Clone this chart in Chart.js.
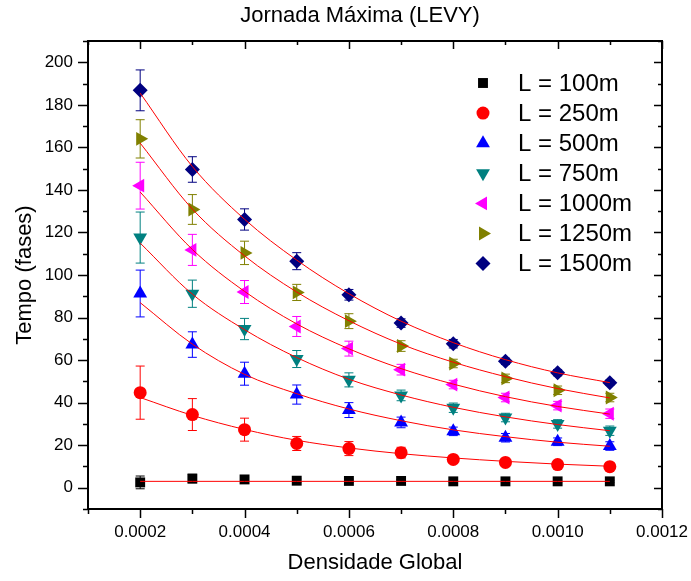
<!DOCTYPE html>
<html>
<head>
<meta charset="utf-8">
<title>Jornada Máxima (LEVY)</title>
<script src="https://cdn.jsdelivr.net/npm/chart.js@4/dist/chart.umd.min.js"></script>
<style>
  body { margin: 0; background: #fff; }
  canvas { display: block; }
</style>
</head>
<body>
<canvas id="js--chart" width="691" height="581"></canvas>
<script>
// densidade global (eixo x)
const densities = [0.0002, 0.0003, 0.0004, 0.0005, 0.0006, 0.0007, 0.0008, 0.0009, 0.0010, 0.0011];

const labels = ["L = 100m", "L = 250m", "L = 500m", "L = 750m", "L = 1000m", "L = 1250m", "L = 1500m"];
const colors = ["#000000", "#ff0000", "#0000ff", "#008080", "#ff00ff", "#808000", "#000080"];

// tempo medio (fases)
const t100 = [2.5, 4.3, 3.9, 3.3, 3.2, 3.2, 3.0, 3.0, 3.0, 3.0];
const t250 = [44.7, 34.4, 27.3, 20.8, 18.4, 16.5, 13.3, 11.9, 10.9, 9.9];
const t500 = [91.3, 67.3, 53.6, 43.8, 36.5, 30.7, 26.5, 23.5, 21.6, 19.6];
const t750 = [117.6, 91.2, 74.6, 60.5, 50.7, 43.4, 37.6, 33.0, 30.0, 26.8];
const t1000 = [142.0, 111.8, 92.0, 75.8, 65.4, 55.5, 48.5, 42.4, 38.6, 34.8];
const t1250 = [164.0, 130.8, 110.4, 91.8, 78.3, 66.6, 58.4, 51.4, 45.8, 42.4];
const t1500 = [186.8, 149.6, 126.1, 106.5, 90.7, 77.4, 67.7, 59.4, 54.1, 49.4];

// barras de erro
const e100 = [3, 2, 1, 0.8, 0.8, 0.6, 0.5, 0.5, 0.5, 0.5];
const e250 = [12.5, 7.5, 5.4, 3.3, 3.3, 2.5, 1.8, 1.5, 1.3, 1.2];
const e500 = [11, 6, 5.4, 4.5, 3.5, 2.5, 2, 2, 1.8, 2];
const e750 = [12, 6.4, 5, 4, 3.3, 2.5, 2.2, 2, 2, 2.2];
const e1000 = [11, 7.3, 5.4, 4.7, 3.5, 2.5, 2, 2, 2, 2.2];
const e1250 = [9, 7, 5.5, 3.8, 3.5, 2.5, 2, 2, 2, 2];
const e1500 = [9.6, 6, 5, 4, 2.5, 2, 2, 1.5, 1.5, 1.2];

// curvas de ajuste
const f100 = [3, 3, 3, 3, 3, 3, 3, 3, 3, 3];
const f250 = [42.4, 34.0, 27.4, 22.3, 18.7, 16.0, 14.0, 12.4, 11.1, 10.1];
const f500 = [87.0, 67.5, 53.3, 44.2, 37.0, 31.5, 27.2, 24.0, 21.4, 19.5];
const f750 = [115.0, 91.0, 74.3, 61.2, 51.0, 43.6, 37.8, 33.3, 29.7, 26.8];
const f1000 = [139.0, 112.0, 92.3, 77.0, 65.3, 56.0, 48.7, 42.8, 38.2, 34.6];
const f1250 = [162.0, 131.0, 109.0, 92.0, 78.5, 67.5, 59.0, 52.2, 46.6, 42.2];
const f1500 = [185.5, 151.0, 126.2, 107.0, 91.2, 78.3, 68.2, 60.2, 54.0, 49.4];

const xMajor = [0.0002, 0.0004, 0.0006, 0.0008, 0.0010, 0.0012];
const xMinor = [0.0001, 0.0003, 0.0005, 0.0007, 0.0009, 0.0011];
const yMajor = [0, 20, 40, 60, 80, 100, 120, 140, 160, 180, 200];
const yMinor = [-10, 10, 30, 50, 70, 90, 110, 130, 150, 170, 190, 210];

const series = [t100, t250, t500, t750, t1000, t1250, t1500];
const errors = [e100, e250, e500, e750, e1000, e1250, e1500];
const fits = [f100, f250, f500, f750, f1000, f1250, f1500];
const styles = ["rect", "circle", "triangle", "triangle", "triangle", "triangle", "rectRot"];
const rotations = [0, 0, 0, 180, 270, 90, 0];
const radii = [7, 6.5, 8, 8, 8, 8, 7.5];

const toPoints = function(values) {
    return densities.map(function(d, i) { return { x: d, y: values[i] }; });
};

const datasets = [];
for (let i = 0; i < series.length; i++) {
    datasets.push({
        type: "line",
        label: "fit " + labels[i],
        data: toPoints(fits[i]),
        borderColor: "#ff0000",
        borderWidth: 1,
        pointRadius: 0,
        cubicInterpolationMode: "monotone",
        fill: false,
        order: 0
    });
}
for (let i = 0; i < series.length; i++) {
    datasets.push({
        type: "scatter",
        label: labels[i],
        data: toPoints(series[i]),
        errors: errors[i],
        backgroundColor: colors[i],
        borderColor: colors[i],
        borderWidth: 0,
        pointStyle: styles[i],
        rotation: rotations[i],
        pointRadius: radii[i],
        order: 1
    });
}

const errorBars = {
    id: "errorBars",
    beforeDatasetsDraw(chart) {
        const ctx = chart.ctx;
        const x = chart.scales.x;
        const y = chart.scales.y;
        ctx.save();
        ctx.lineWidth = 1;
        chart.data.datasets.forEach(function(ds) {
            if (!ds.errors) return;
            ctx.strokeStyle = ds.borderColor;
            ds.data.forEach(function(p, i) {
                const px = x.getPixelForValue(p.x);
                const top = y.getPixelForValue(p.y + ds.errors[i]);
                const bottom = y.getPixelForValue(p.y - ds.errors[i]);
                ctx.beginPath();
                ctx.moveTo(px, top);
                ctx.lineTo(px, bottom);
                ctx.moveTo(px - 4.5, top);
                ctx.lineTo(px + 4.5, top);
                ctx.moveTo(px - 4.5, bottom);
                ctx.lineTo(px + 4.5, bottom);
                ctx.stroke();
            });
        });
        ctx.restore();
    }
};

const frame = {
    id: "frame",
    afterDraw(chart) {
        const ctx = chart.ctx;
        const area = chart.chartArea;
        const x = chart.scales.x;
        const y = chart.scales.y;
        ctx.save();
        ctx.strokeStyle = "#000";
        ctx.lineWidth = 1.5;
        ctx.beginPath();
        xMajor.forEach(function(v) {
            const px = Math.round(x.getPixelForValue(v)) + 0.5;
            ctx.moveTo(px, area.bottom); ctx.lineTo(px, area.bottom + 9);
            ctx.moveTo(px, area.top); ctx.lineTo(px, area.top + 8);
        });
        xMinor.forEach(function(v) {
            const px = Math.round(x.getPixelForValue(v)) + 0.5;
            ctx.moveTo(px, area.bottom); ctx.lineTo(px, area.bottom + 5);
            ctx.moveTo(px, area.top); ctx.lineTo(px, area.top + 4);
        });
        yMajor.forEach(function(v) {
            const py = Math.round(y.getPixelForValue(v)) + 0.5;
            ctx.moveTo(area.left, py); ctx.lineTo(area.left - 10, py);
            ctx.moveTo(area.right, py); ctx.lineTo(area.right - 8, py);
        });
        yMinor.forEach(function(v) {
            const py = Math.round(y.getPixelForValue(v)) + 0.5;
            ctx.moveTo(area.left, py); ctx.lineTo(area.left - 5, py);
            ctx.moveTo(area.right, py); ctx.lineTo(area.right - 4, py);
        });
        ctx.stroke();
        ctx.lineWidth = 2;
        ctx.strokeRect(area.left, area.top, area.right - area.left, area.bottom - area.top);

        // titulo
        ctx.fillStyle = "#000";
        ctx.font = "22px 'Liberation Sans', Arial, sans-serif";
        ctx.textAlign = "center";
        ctx.textBaseline = "middle";
        ctx.fillText("Jornada Máxima (LEVY)", 360, 16);

        // legenda
        ctx.font = "24px 'Liberation Sans', Arial, sans-serif";
        ctx.textAlign = "left";
        const scatter = chart.data.datasets.filter(function(ds) { return ds.type === "scatter"; });
        scatter.forEach(function(ds, i) {
            const ly = area.top + 42 + i * 30.1;
            const lx = area.right - 179;
            ctx.fillStyle = ds.backgroundColor;
            Chart.helpers.drawPoint(ctx, {
                pointStyle: ds.pointStyle,
                rotation: ds.rotation,
                radius: ds.pointRadius,
                borderWidth: 0
            }, lx, ly);
            ctx.fillStyle = "#000";
            ctx.fillText(ds.label, lx + 35, ly + 1);
        });
        ctx.restore();
    }
};

Chart.defaults.font.family = "'Liberation Sans', Arial, sans-serif";
Chart.defaults.color = "#000";

new Chart(document.getElementById("js--chart"), {
    type: "scatter",
    data: { datasets: datasets },
    options: {
        responsive: false,
        animation: false,
        devicePixelRatio: 1,
        layout: { padding: { top: 41, right: 29, bottom: 0, left: 0 } },
        plugins: {
            legend: { display: false },
            tooltip: { enabled: false },
            title: { display: false }
        },
        scales: {
            x: {
                type: "linear",
                position: "bottom",
                min: 0.0001,
                max: 0.0012,
                afterBuildTicks: function(scale) {
                    scale.ticks = xMajor.map(function(v) { return { value: v }; });
                },
                afterFit: function(scale) {
                    scale.height = 72;
                    scale.paddingLeft = 0;
                    scale.paddingRight = 0;
                },
                grid: { display: false, drawTicks: false },
                border: { display: false },
                ticks: {
                    font: { size: 17 },
                    color: "#000",
                    padding: 13,
                    maxRotation: 0,
                    autoSkip: false,
                    callback: function(v) { return v.toFixed(4); }
                },
                title: {
                    display: true,
                    text: "Densidade Global",
                    font: { size: 22 },
                    color: "#000",
                    padding: { top: 0, bottom: 5 }
                }
            },
            y: {
                type: "linear",
                min: -10,
                max: 210,
                afterBuildTicks: function(scale) {
                    scale.ticks = yMajor.map(function(v) { return { value: v }; });
                },
                afterFit: function(scale) {
                    scale.width = 88;
                    scale.paddingTop = 0;
                    scale.paddingBottom = 0;
                },
                grid: { display: false, drawTicks: false },
                border: { display: false },
                ticks: {
                    font: { size: 17 },
                    color: "#000",
                    padding: 15,
                    autoSkip: false
                },
                title: {
                    display: true,
                    text: "Tempo (fases)",
                    font: { size: 22 },
                    color: "#000",
                    padding: { top: 12, bottom: 0 }
                }
            }
        }
    },
    plugins: [errorBars, frame]
});
</script>
</body>
</html>
